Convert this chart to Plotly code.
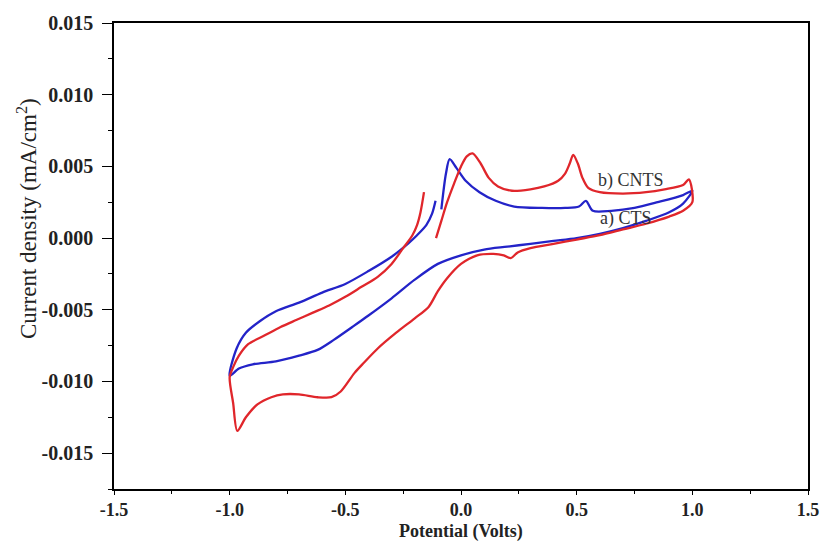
import plotly.graph_objects as go

# a) CTS (blue) cyclic voltammogram, in scan order
cts_potential = [-0.11, -0.125, -0.15, -0.19, -0.23, -0.30, -0.40, -0.50, -0.60, -0.70, -0.80, -0.87, -0.93, -0.97, -1.00,
                 -0.96, -0.90, -0.80, -0.70, -0.62, -0.55, -0.47, -0.40, -0.30, -0.20, -0.10, 0.00, 0.10, 0.20, 0.30, 0.40, 0.50,
                 0.60, 0.70, 0.80, 0.90, 0.96, 1.00,
                 0.96, 0.85, 0.75, 0.65, 0.57, 0.54, 0.51, 0.45, 0.35, 0.23, 0.15, 0.08, 0.02, -0.02, -0.049, -0.065, -0.085]
cts_current = [0.0026, 0.0017, 0.0009, 0.0002, -0.0004, -0.0013, -0.0023, -0.0032, -0.0038, -0.0045, -0.0051, -0.0058, -0.0066, -0.0077, -0.0096,
               -0.0091, -0.0088, -0.0086, -0.0082, -0.0078, -0.0071, -0.0062, -0.0054, -0.0042, -0.0029, -0.0018, -0.0012, -0.0008, -0.0006, -0.0004, -0.0002, 0.0000,
               0.0003, 0.0007, 0.0012, 0.0018, 0.0024, 0.0033,
               0.0030, 0.0025, 0.0021, 0.0019, 0.0019, 0.0026, 0.0022, 0.0021, 0.0021, 0.0022, 0.0026, 0.0032, 0.0040, 0.0049, 0.0055, 0.0045, 0.0020]

# b) CNTS (red) cyclic voltammogram, in scan order
cnts_potential = [-0.16, -0.175, -0.19, -0.21, -0.25, -0.30, -0.36, -0.43, -0.50, -0.57, -0.64, -0.71, -0.78, -0.85, -0.92, -0.96, -0.985, -1.00,
                  -0.985, -0.967, -0.93, -0.88, -0.82, -0.77, -0.70, -0.62, -0.56, -0.52, -0.46, -0.42, -0.36, -0.28, -0.20, -0.14, -0.10, -0.06,
                  0.00, 0.07, 0.14, 0.185, 0.215, 0.245, 0.30, 0.40, 0.50, 0.60, 0.70, 0.80, 0.90, 0.96, 1.00,
                  0.985, 0.96, 0.88, 0.80, 0.70, 0.60, 0.55, 0.525, 0.505, 0.485, 0.47, 0.45, 0.42, 0.36, 0.30, 0.22, 0.16, 0.12, 0.085, 0.050,
                  0.025, 0.00, -0.03, -0.06, -0.085, -0.108]
cnts_current = [0.0032, 0.0018, 0.0009, 0.0002, -0.0007, -0.0018, -0.0027, -0.0034, -0.0041, -0.0047, -0.0052, -0.0057, -0.0062, -0.0068, -0.0074, -0.0082, -0.0090, -0.0097,
                -0.0115, -0.01345, -0.0125, -0.0116, -0.0111, -0.0109, -0.0109, -0.0111, -0.0111, -0.0107, -0.0094, -0.0087, -0.0077, -0.0066, -0.0056, -0.0048, -0.0037, -0.0028,
                -0.0018, -0.0012, -0.0011, -0.0012, -0.0014, -0.0010, -0.0007, -0.0004, -0.0001, 0.0002, 0.0006, 0.0010, 0.0015, 0.0019, 0.0025,
                0.0041, 0.0037, 0.0034, 0.0032, 0.0031, 0.0032, 0.0035, 0.0042, 0.0052, 0.0058, 0.0052, 0.0045, 0.0040, 0.0036, 0.0034, 0.0033, 0.0036, 0.0042, 0.0052, 0.0059,
                0.0057, 0.0050, 0.0038, 0.0025, 0.0012, 0.0000]

x_ticks = [-1.5, -1.0, -0.5, 0.0, 0.5, 1.0, 1.5]
y_ticks = [-0.015, -0.010, -0.005, 0.000, 0.005, 0.010, 0.015]

fig = go.Figure()
fig.add_trace(go.Scatter(x=cts_potential, y=cts_current, mode="lines", name="a) CTS",
                         line=dict(color="#2323c8", width=2.3, shape="spline", smoothing=0.8)))
fig.add_trace(go.Scatter(x=cnts_potential, y=cnts_current, mode="lines", name="b) CNTS",
                         line=dict(color="#e0262b", width=2.3, shape="spline", smoothing=0.8)))

fig.add_annotation(x=0.735, y=0.0040, text="b) CNTS", showarrow=False,
                   font=dict(family="Liberation Serif", size=18, color="#333333"))
fig.add_annotation(x=0.713, y=0.00140, text="a) CTS", showarrow=False,
                   font=dict(family="Liberation Serif", size=18, color="#333333"))

# axis titles
fig.add_annotation(xref="paper", yref="paper", x=0.5, y=-0.1155, xanchor="center", yanchor="bottom",
                   text="<b>Potential (Volts)</b>", showarrow=False, borderpad=0,
                   font=dict(family="Liberation Serif", size=18, color="#222222"))
fig.add_annotation(xref="paper", yref="paper", x=-0.125, y=0.58, xanchor="center", yanchor="middle",
                   textangle=-90, text="Current density (mA/cm<sup>2</sup>)", showarrow=False,
                   font=dict(family="Liberation Serif", size=23, color="#222222"))

axis_common = dict(showline=True, linecolor="black", linewidth=1.6, mirror=True,
                   ticks="outside", tickwidth=1.4, tickcolor="black",
                   showgrid=False, zeroline=False)

fig.update_xaxes(range=[-1.5, 1.5], tickvals=x_ticks, ticktext=[f"{v:.1f}" for v in x_ticks], ticklen=4,
                 tickfont=dict(family="Liberation Serif", size=18, color="#222222", weight="bold"),
                 minor=dict(ticks="outside", ticklen=3, tickwidth=1.2, tickcolor="black", dtick=0.25, tick0=-1.5),
                 **axis_common)
fig.update_yaxes(range=[-0.0175, 0.015], tickvals=y_ticks, ticktext=[f"{v:.3f}" for v in y_ticks], ticklen=10,
                 ticklabelstandoff=5,
                 tickfont=dict(family="Liberation Serif", size=20, color="#222222", weight="bold"),
                 minor=dict(ticks="outside", ticklen=4, tickwidth=1.2, tickcolor="black", dtick=0.0025, tick0=0),
                 **axis_common)

fig.update_layout(width=831, height=543, plot_bgcolor="white", paper_bgcolor="white",
                  showlegend=False, margin=dict(l=114, r=18, t=23, b=54))

fig.write_html("out.html", config={"displayModeBar": False},
               post_script="document.body.style.margin='0px';")
